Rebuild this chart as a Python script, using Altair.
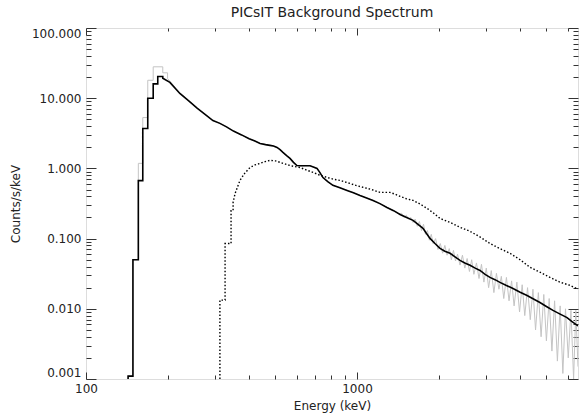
import altair as alt
import pandas as pd

# ---- data ----
solid_E = [143, 143, 149, 149, 156, 156, 162, 162, 169, 169, 177, 177, 184, 184, 192, 192,
           204, 222, 240, 257, 275, 294, 312, 330, 350, 375, 400, 420, 439, 460, 477, 492,
           507, 520, 533, 550, 566, 583, 600, 620, 645, 671, 690, 712, 730, 749, 780, 815,
           865, 919, 970, 1026, 1085, 1146, 1215, 1290, 1365, 1442, 1525, 1610, 1680, 1752,
           1800, 1860, 1940, 2025, 2110, 2205, 2300, 2400, 2500, 2613, 2730, 2844, 2970,
           3096, 3230, 3370, 3560, 3765, 4000, 4243, 4480, 4733, 5000, 5288, 5620, 5958,
           6200, 6540]
solid_v = [0.001, 0.0011, 0.0011, 0.05, 0.05, 0.67, 0.67, 3.7, 3.7, 10.0, 10.0, 16.0, 16.0, 20.4, 20.4, 19.2,
           16.8, 11.7, 9.1, 7.2, 5.9, 4.8, 4.38, 3.9, 3.4, 3.0, 2.65, 2.45, 2.27, 2.18, 2.13, 2.08,
           1.99, 1.85, 1.69, 1.52, 1.39, 1.22, 1.10, 1.09, 1.09, 1.09, 1.05, 1.0, 0.87, 0.74, 0.65, 0.573,
           0.53, 0.486, 0.45, 0.412, 0.38, 0.350, 0.315, 0.278, 0.25, 0.221, 0.200, 0.182, 0.16, 0.140,
           0.120, 0.1007, 0.085, 0.0725, 0.066, 0.0617, 0.055, 0.049, 0.045, 0.0416, 0.038, 0.0352, 0.031,
           0.028, 0.026, 0.0238, 0.0215, 0.0195, 0.0172, 0.0155, 0.0138, 0.0123, 0.0108, 0.0095, 0.0084, 0.0075,
           0.0066, 0.0057]

gray_E = [143, 143, 149, 149, 156, 156, 162, 162, 169, 169, 177, 177, 192, 192, 200, 200,
          204, 222, 240, 257, 275, 294, 312, 330, 350, 375, 400, 420, 439, 460, 477, 492,
          507, 520, 533, 550, 566, 583, 600, 620, 645, 671, 690, 712, 730, 749, 780, 815,
          865, 919, 970, 1026, 1085, 1146, 1215, 1290, 1365, 1430,
          1460, 1490, 1520, 1550, 1580, 1610, 1640, 1670, 1700, 1730, 1760, 1790, 1820, 1850,
          1880, 1910, 1950, 1990, 2030, 2070, 2110, 2150, 2190, 2230, 2270, 2310, 2350, 2400,
          2450, 2500, 2550, 2600, 2650, 2700, 2760, 2820, 2880, 2940, 3000, 3060, 3130, 3200,
          3270, 3340, 3410, 3480, 3560, 3640, 3720, 3800, 3890, 3980, 4070, 4160, 4260, 4360,
          4460, 4560, 4670, 4780, 4890, 5000, 5120, 5240, 5360, 5490, 5620, 5750, 5880, 6020,
          6160, 6300, 6420, 6540]
gray_v = [0.001, 0.0011, 0.0011, 0.05, 0.05, 1.18, 1.18, 5.3, 5.3, 18.0, 18.0, 28.0, 28.0, 23.0, 23.0, 19.0,
          17.5, 11.9, 9.1, 7.2, 5.9, 4.8, 4.38, 3.9, 3.4, 3.0, 2.65, 2.45, 2.27, 2.18, 2.13, 2.08,
          1.99, 1.85, 1.69, 1.52, 1.39, 1.22, 1.10, 1.09, 1.09, 1.09, 1.05, 1.0, 0.87, 0.74, 0.65, 0.573,
          0.53, 0.486, 0.45, 0.412, 0.38, 0.350, 0.315, 0.278, 0.25, 0.225,
          0.23, 0.20, 0.215, 0.19, 0.20, 0.17, 0.19, 0.15, 0.175, 0.13, 0.16, 0.115, 0.13, 0.095,
          0.115, 0.085, 0.10, 0.07, 0.085, 0.062, 0.08, 0.058, 0.072, 0.05, 0.068, 0.048, 0.06, 0.042,
          0.058, 0.038, 0.052, 0.034, 0.05, 0.031, 0.045, 0.027, 0.043, 0.024, 0.038, 0.02, 0.035, 0.017,
          0.032, 0.019, 0.029, 0.014, 0.028, 0.013, 0.025, 0.011, 0.024, 0.009, 0.022, 0.008, 0.02, 0.007,
          0.019, 0.005, 0.017, 0.004, 0.016, 0.0035, 0.014, 0.0025, 0.013, 0.0018, 0.011, 0.0012, 0.010, 0.002,
          0.0095, 0.001, 0.0095, 0.0015]

dot_E = [312, 312, 326, 326, 343, 343, 349, 349, 355, 370, 385, 403, 420, 439, 458, 477, 500, 520,
         545, 566, 590, 616, 650, 688, 730, 775, 820, 865, 942, 1010, 1089, 1150, 1216, 1270, 1324,
         1380, 1442, 1520, 1610, 1710, 1813, 1920, 2025, 2205, 2400, 2613, 2850, 3096, 3370, 3670,
         4000, 4350, 4750, 5155, 5600, 6110, 6540]
dot_v = [0.001, 0.0133, 0.0133, 0.085, 0.085, 0.25, 0.25, 0.33, 0.44, 0.675, 0.85, 1.03, 1.12, 1.18, 1.25, 1.30, 1.28, 1.22,
         1.15, 1.10, 1.06, 1.03, 0.95, 0.877, 0.80, 0.744, 0.70, 0.675, 0.61, 0.56, 0.52, 0.49, 0.455, 0.455, 0.455,
         0.43, 0.40, 0.37, 0.35, 0.31, 0.27, 0.23, 0.194, 0.17, 0.145, 0.127, 0.105, 0.085, 0.072, 0.0617,
         0.05, 0.039, 0.033, 0.028, 0.024, 0.0216, 0.019]

x_major = [100, 1000]
x_minor = [200, 300, 400, 500, 600, 700, 800, 900, 2000, 3000, 4000, 5000, 6000]
y_major = [0.001, 0.01, 0.1, 1, 10, 100]
y_minor = [0.002, 0.003, 0.004, 0.005, 0.006, 0.007, 0.008, 0.009,
           0.02, 0.03, 0.04, 0.05, 0.06, 0.07, 0.08, 0.09,
           0.2, 0.3, 0.4, 0.5, 0.6, 0.7, 0.8, 0.9,
           2, 3, 4, 5, 6, 7, 8, 9,
           20, 30, 40, 50, 60, 70, 80, 90]

title_text = "PICsIT Background Spectrum"
x_title = "Energy (keV)"
y_title = "Counts/s/keV"

def frame(E, v):
    return pd.DataFrame({"E": E, "v": v, "i": list(range(len(E)))})

solid_df = frame(solid_E, solid_v)
gray_df = frame(gray_E, gray_v)
dot_df = frame(dot_E, dot_v)

FONT = "DejaVu Sans"
TXT = "#222222"
TICK = "#333333"

xs = alt.Scale(type="log", domain=[100, 6540], nice=False)
ys = alt.Scale(type="log", domain=[0.001, 100], nice=False)

def xax(orient, values, size, labels, title=""):
    kw = dict(orient=orient, values=values, offset=-size, tickSize=size, domain=False, grid=False,
              labels=labels, tickColor=TICK, tickWidth=1, title=title)
    if labels:
        kw.update(labelFont=FONT, labelFontSize=12, labelColor=TXT, labelPadding=4, format="d",
                  labelFlush=False, labelOverlap=False,
                  titleFont=FONT, titleFontSize=12, titleFontWeight="normal", titleColor=TXT, titlePadding=6)
    return alt.Axis(**kw)

def yax(orient, values, size, labels, title=""):
    kw = dict(orient=orient, values=values, offset=-size, tickSize=size, domain=False, grid=False,
              labels=labels, tickColor=TICK, tickWidth=1, title=title)
    if labels:
        kw.update(labelFont=FONT, labelFontSize=12, labelColor=TXT, labelPadding=5, format=".3f",
                  labelFlush=True, labelOverlap=False,
                  titleFont=FONT, titleFontSize=12, titleFontWeight="normal", titleColor=TXT, titlePadding=9)
    return alt.Axis(**kw)

gray = alt.Chart(gray_df).mark_line(color="#c4c4c4", strokeWidth=1, clip=True).encode(
    x=alt.X("E:Q", scale=xs, axis=xax("bottom", x_major, 7, True, x_title)),
    y=alt.Y("v:Q", scale=ys, axis=yax("left", y_major, 10, True, y_title)),
    order=alt.Order("i:Q"),
)
dotted = alt.Chart(dot_df).mark_line(color="black", strokeWidth=1.4, strokeDash=[1.5, 2], clip=True).encode(
    x=alt.X("E:Q", scale=xs, axis=xax("bottom", x_minor, 4, False)),
    y=alt.Y("v:Q", scale=ys, axis=yax("left", y_minor, 5, False)),
    order=alt.Order("i:Q"),
)
solid = alt.Chart(solid_df).mark_line(color="black", strokeWidth=1.6, clip=True).encode(
    x=alt.X("E:Q", scale=xs, axis=xax("top", x_major, 7, False)),
    y=alt.Y("v:Q", scale=ys, axis=yax("right", y_major, 10, False)),
    order=alt.Order("i:Q"),
)
ghost = alt.Chart(solid_df).mark_point(opacity=0, clip=True).encode(
    x=alt.X("E:Q", scale=xs, axis=xax("top", x_minor, 3, False)),
    y=alt.Y("v:Q", scale=ys, axis=yax("right", y_minor, 5, False)),
)

chart = alt.layer(gray, dotted, solid, ghost).resolve_axis(
    x="independent", y="independent"
).properties(
    width=492, height=351,
    title=alt.TitleParams(title_text, font=FONT, fontSize=14, fontWeight="normal", color=TXT,
                          anchor="middle", offset=7),
    autosize=alt.AutoSizeParams(type="none"),
    padding={"left": 86, "top": 28, "right": 2, "bottom": 38},
).configure_view(stroke="#222222", strokeWidth=1.2).configure(background="white")

chart.save("out.html", embed_options={"renderer": "svg", "actions": False})
